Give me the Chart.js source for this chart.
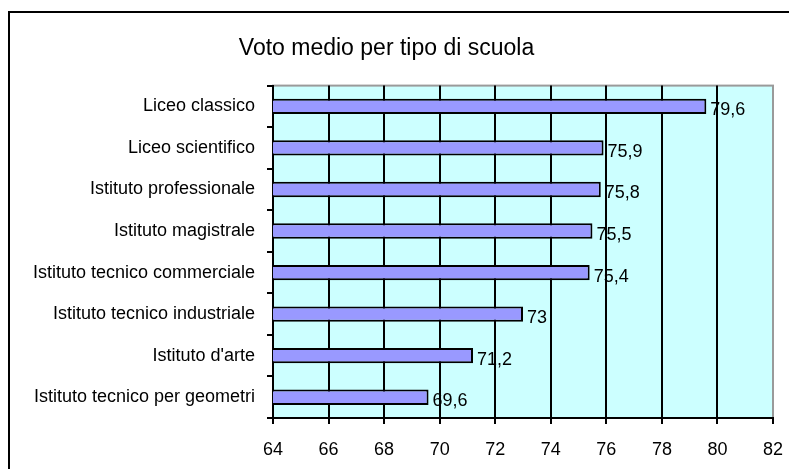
<!DOCTYPE html>
<html>
<head>
<meta charset="utf-8">
<script src="https://cdn.jsdelivr.net/npm/chart.js@4"></script>
<style>
    html, body { margin: 0; padding: 0; background: #fff; overflow: hidden; }
    #wrap { position: relative; width: 789px; height: 469px; }
    #frame { position: absolute; left: 8px; top: 11px; width: 850px; height: 520px; border: 2px solid #000; pointer-events: none; }
</style>
</head>
<body>
<div id="wrap">
    <canvas id="voti" width="789" height="469"></canvas>
    <div id="frame"></div>
</div>
<script>
const titolo = 'Voto medio per tipo di scuola';
const scuole = ['Liceo classico', 'Liceo scientifico', 'Istituto professionale', 'Istituto magistrale',
    'Istituto tecnico commerciale', 'Istituto tecnico industriale', "Istituto d'arte", 'Istituto tecnico per geometri'];
const voti = [79.6, 75.9, 75.8, 75.5, 75.4, 73, 71.2, 69.6];
const assexMin = 64;
const assexMax = 82;
const assexPasso = 2;

const font = 'Liberation Sans, Arial, sans-serif';

// sfondo azzurro dell'area del grafico, bordo grigio
const sfondo = {
    id: 'sfondo',
    beforeDraw(chart) {
        const { ctx, chartArea: a } = chart;
        ctx.save();
        ctx.fillStyle = '#CCFFFF';
        ctx.fillRect(a.left, a.top, a.right - a.left, a.bottom - a.top);
        ctx.strokeStyle = '#9a9a9a';
        ctx.lineWidth = 2;
        ctx.strokeRect(a.left, a.top, a.right - a.left, a.bottom - a.top);
        ctx.restore();
    }
};

// etichette dei valori alla fine delle barre (virgola decimale)
const etichette = {
    id: 'etichette',
    afterDatasetsDraw(chart) {
        const ctx = chart.ctx;
        ctx.save();
        ctx.font = '18px ' + font;
        ctx.fillStyle = '#000';
        ctx.textAlign = 'left';
        ctx.textBaseline = 'middle';
        chart.getDatasetMeta(0).data.forEach((bar, i) => {
            ctx.fillText(String(voti[i]).replace('.', ','), bar.x + 4, bar.y + 4);
        });
        ctx.restore();
    }
};

new Chart(document.getElementById('voti'), {
    type: 'bar',
    data: {
        labels: scuole,
        datasets: [{
            data: voti,
            backgroundColor: '#9999FF',
            borderColor: '#000',
            borderWidth: 2,
            borderSkipped: false,
            categoryPercentage: 1,
            barPercentage: 0.37
        }]
    },
    options: {
        indexAxis: 'y',
        responsive: false,
        animation: false,
        layout: { padding: { left: 0, right: 16, top: 0, bottom: 0 } },
        plugins: {
            legend: { display: false },
            tooltip: { enabled: false },
            title: {
                display: true,
                text: titolo,
                color: '#000',
                font: { family: font, size: 23, weight: 'normal' },
                padding: { top: 35, bottom: 23 }
            }
        },
        scales: {
            x: {
                min: assexMin,
                max: assexMax,
                afterFit: (s) => { s.height = 51; s.paddingLeft = 0; s.paddingRight = 0; },
                ticks: {
                    stepSize: assexPasso,
                    color: '#000',
                    padding: 15,
                    maxRotation: 0,
                    font: { family: font, size: 18 }
                },
                grid: {
                    color: (c) => c.tick && c.tick.value === assexMax ? '#9a9a9a' : '#000',
                    lineWidth: 2,
                    tickLength: 6,
                    tickColor: '#000'
                },
                border: { color: '#000', width: 2 }
            },
            y: {
                afterFit: (s) => { s.width = 273; },
                ticks: {
                    color: '#000',
                    padding: 12,
                    font: { family: font, size: 18 }
                },
                grid: {
                    drawOnChartArea: false,
                    tickLength: 6,
                    color: '#000',
                    lineWidth: 2
                },
                border: { color: '#000', width: 2 }
            }
        }
    },
    plugins: [sfondo, etichette]
});
</script>
</body>
</html>
